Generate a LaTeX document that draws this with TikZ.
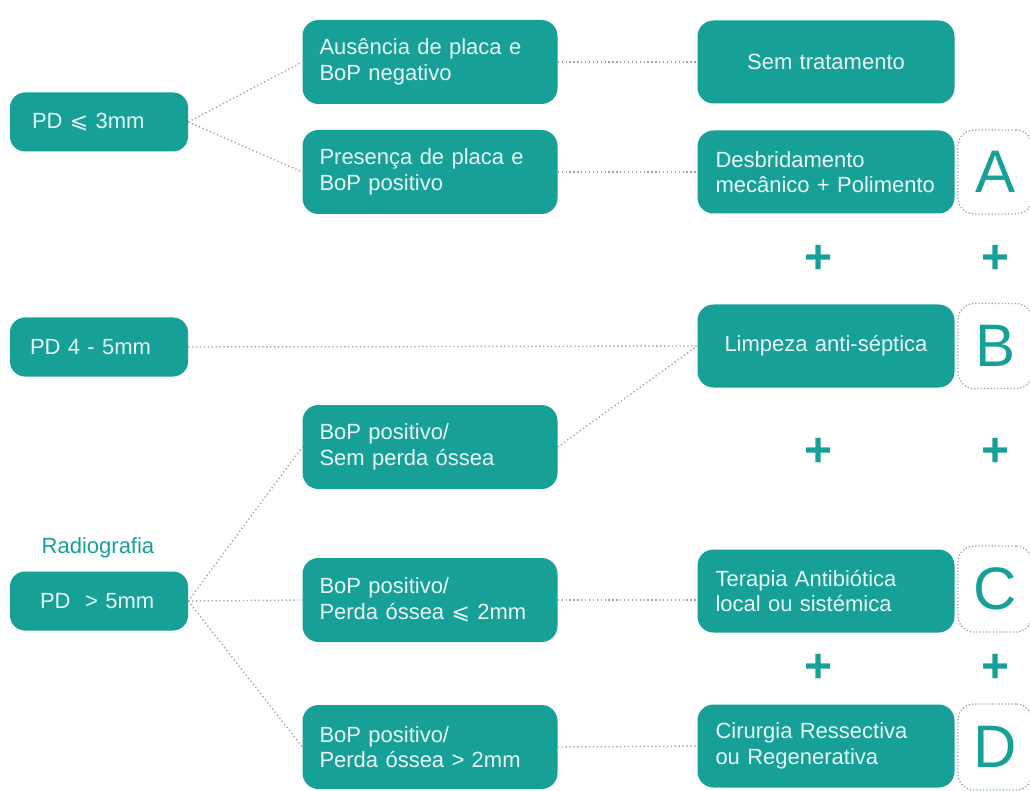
\documentclass[tikz,border=0pt]{standalone}
\usepackage{fontspec}
\setmainfont{Liberation Sans}
\newfontfamily\symfont{DejaVu Sans}
\definecolor{teal1}{HTML}{17A098}
\definecolor{txtc}{HTML}{E8F8F6}
\definecolor{linec}{HTML}{98A8A8}
\begin{document}
\begin{tikzpicture}[x=1pt,y=-1pt,
  base/.style={fill=teal1, text=txtc, font=\fontsize{22}{25.5}\selectfont, inner ysep=0pt, anchor=center},
  sbox/.style={base, rounded corners=15pt, minimum width=178pt, minimum height=59pt, text width=134pt, inner xsep=22pt, align=left},
  bbox/.style={base, rounded corners=16pt, minimum width=255pt, minimum height=84pt, text width=221pt, inner xsep=17pt, align=left},
  rbox/.style={base, rounded corners=16pt, minimum width=257pt, minimum height=83pt, text width=221pt, inner xsep=18pt, align=left},
  cbox/.style={rbox, align=center},
  letbox/.style={draw=linec, dotted, line width=1.3pt, rounded corners=16pt, minimum width=74pt, text=teal1, font=\fontsize{60}{60}\selectfont, inner sep=0pt, anchor=center},
  conn/.style={draw=linec, line width=1.4pt, dash pattern=on 1.3pt off 2.6pt},
  plus/.style={text=teal1, font=\fontsize{48}{48}\bfseries\selectfont, inner sep=0pt, anchor=center},
  lbl/.style={text=teal1, font=\fontsize{22}{25.5}\selectfont, inner sep=0pt, anchor=center}
]
\useasboundingbox (0,0) rectangle (1030,791);

\node[sbox] (pd3) at (99,122) {\mbox{PD {\symfont ⩽} 3mm}};
\node[bbox] (aus) at (430,62) {\mbox{Ausência de placa e}\\BoP negativo};
\node[bbox] (pre) at (430,172) {\mbox{Presença de placa e}\\BoP positivo};
\node[cbox] (sem) at (826,62) {Sem tratamento};
\node[rbox] (des) at (826,172) {Desbridamento\\\mbox{mecânico + Polimento}};
\node[letbox, minimum height=84pt] (la) at (995,172) {A};

\node[plus] (p1a) at (819,259) {+};
\node[plus] (p1b) at (996,259) {+};

\node[sbox, text width=138pt, inner xsep=20pt] (pd45) at (99,347) {\mbox{PD 4 - 5mm}};
\node[cbox] (lim) at (826,346) {Limpeza anti-séptica};
\node[letbox, minimum height=85pt] (lb) at (995,346) {B};

\node[bbox] (b1) at (430,447) {BoP positivo/\\Sem perda óssea};
\node[plus] (p2a) at (819,452) {+};
\node[plus] (p2b) at (996,452) {+};

\node[lbl] (rad) at (98,548) {Radiografia};
\node[sbox, text width=118pt, inner xsep=30pt] (pd5) at (99,601) {\mbox{PD\ \ > 5mm}};
\node[bbox] (b2) at (430,600) {BoP positivo/\\\mbox{Perda óssea {\symfont ⩽} 2mm}};
\node[rbox] (ter) at (826,591) {\mbox{Terapia Antibiótica}\\\mbox{local ou sistémica}};
\node[letbox, minimum height=86pt] (lc) at (995,589) {C};

\node[plus] (p3a) at (819,668) {+};
\node[plus] (p3b) at (996,668) {+};

\node[bbox] (b3) at (430,747) {BoP positivo/\\\mbox{Perda óssea > 2mm}};
\node[rbox] (cir) at (826,746) {\mbox{Cirurgia Ressectiva}\\\mbox{ou Regenerativa}};
\node[letbox, minimum height=86pt] (ld) at (995,747) {D};

\draw[conn] (pd3.east) -- (aus.west);
\draw[conn] (pd3.east) -- (pre.west);
\draw[conn] (aus.east) -- (sem.west);
\draw[conn] (pre.east) -- (des.west);
\draw[conn] (pd45.east) -- (lim.west);
\draw[conn] (b1.east) -- (lim.west);
\draw[conn] (pd5.east) -- (b1.west);
\draw[conn] (pd5.east) -- (b2.west);
\draw[conn] (pd5.east) -- (b3.west);
\draw[conn] (b2.east) -- (b2.east -| ter.west);
\draw[conn] (b3.east) -- (cir.west);
\end{tikzpicture}
\end{document}
